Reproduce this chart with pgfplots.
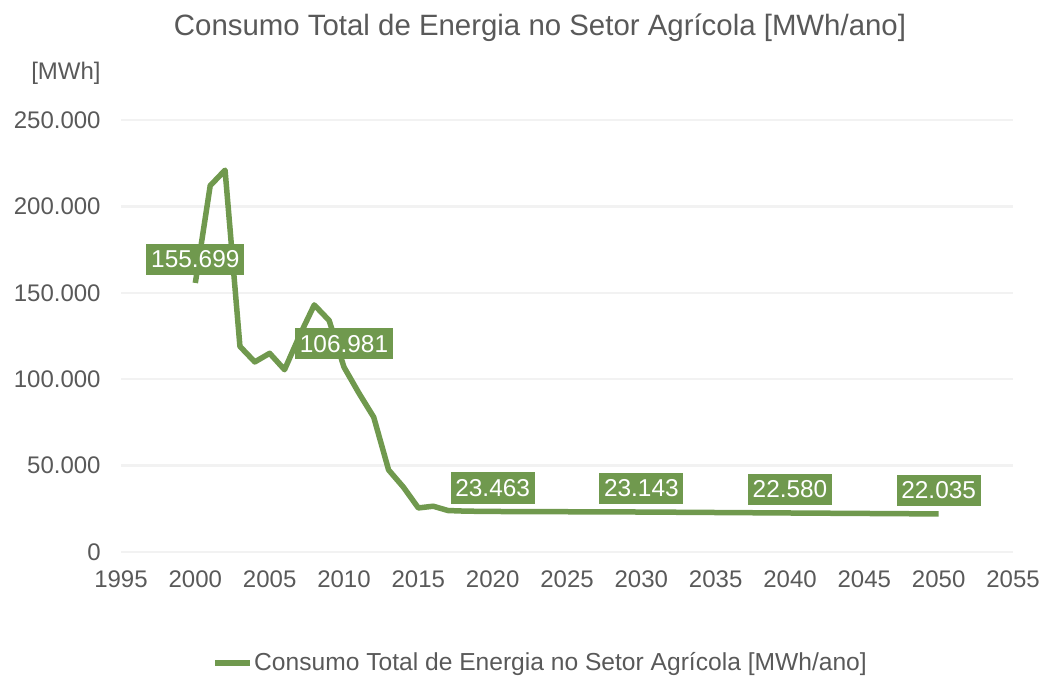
\documentclass[border=0pt]{standalone}
\usepackage{pgfplots}
\pgfplotsset{compat=1.18}
\usepackage{fontspec}
\setmainfont{Liberation Sans}
\definecolor{serie}{RGB}{112,153,78}
\definecolor{txt}{RGB}{89,89,89}
\definecolor{grade}{RGB}{242,242,242}

\pgfplotstableread{
ano valor
2000 155699
2001 212000
2002 221000
2003 119000
2004 110000
2005 115000
2006 105500
2007 125000
2008 143000
2009 134000
2010 106981
2011 92000
2012 78000
2013 47500
2014 37500
2015 25500
2016 26500
2017 24000
2018 23700
2019 23550
2020 23463
2021 23431
2022 23399
2023 23367
2024 23335
2025 23303
2026 23271
2027 23239
2028 23207
2029 23175
2030 23143
2031 23087
2032 23030
2033 22974
2034 22918
2035 22862
2036 22805
2037 22749
2038 22693
2039 22636
2040 22580
2041 22526
2042 22471
2043 22417
2044 22362
2045 22308
2046 22253
2047 22199
2048 22144
2049 22090
2050 22035
}\dados

\pgfplotstableread{
ano valor
2000 155699
2010 106981
2020 23463
2030 23143
2040 22580
2050 22035
}\rotulos

\begin{document}
\begin{tikzpicture}
\path[use as bounding box] (-60.5pt,-62.5pt) rectangle (460.5pt,276pt);
\begin{axis}[
  at={(0pt,0pt)}, anchor=south west,
  scale only axis, width=446pt, height=216pt,
  xmin=1995, xmax=2055, ymin=0, ymax=250000,
  xtick distance=5, ytick distance=50000,
  scaled ticks=false,
  axis line style={draw=none},
  major tick length=0pt,
  ymajorgrids, grid style={grade, line width=1.2pt},
  tick label style={font=\fontsize{12}{14}\selectfont, text=txt},
  /pgf/number format/assume math mode=true,
  /pgf/number format/fixed, /pgf/number format/precision=0,
  xticklabel style={/pgf/number format/1000 sep={}, yshift=-6pt},
  yticklabel style={/pgf/number format/1000 sep={.}, inner sep=0pt, xshift=-10pt},
  legend style={at={(0.47,-0.257)}, anchor=center, draw=none, fill=none,
    font=\fontsize{12.3}{14}\selectfont, text=txt, inner sep=0pt,
    nodes={inner xsep=0.5pt},
    /tikz/every odd column/.style={column sep=0pt}},
  legend cell align=left,
  legend image code/.code={\draw[#1, line width=2.75pt] (0pt,0pt) -- (17.5pt,0pt);},
  clip=false,
]
\addplot[serie, line width=2.75pt, line join=round] table[x=ano, y=valor] {\dados};
\addlegendentry{Consumo Total de Energia no Setor Agrícola [MWh/ano]}
\addplot[draw=none, forget plot,
  nodes near coords={\pgfmathprintnumber[fixed, precision=0, 1000 sep={.}]{\pgfplotspointmeta}},
  nodes near coords style={anchor=center, yshift=11.75pt, fill=serie, text=white,
    inner xsep=2.4pt, inner ysep=3.5pt, font=\fontsize{12.2}{14}\selectfont}]
  table[x=ano, y=valor] {\rotulos};
\end{axis}
\node[text=txt, font=\fontsize{14.7}{17}\selectfont] at (209.5pt,262pt) {Consumo Total de Energia no Setor Agrícola [MWh/ano]};
\node[text=txt, font=\fontsize{12}{14}\selectfont, anchor=east, inner sep=0pt] at (-10pt,239.5pt) {[MWh]};
\end{tikzpicture}
\end{document}
